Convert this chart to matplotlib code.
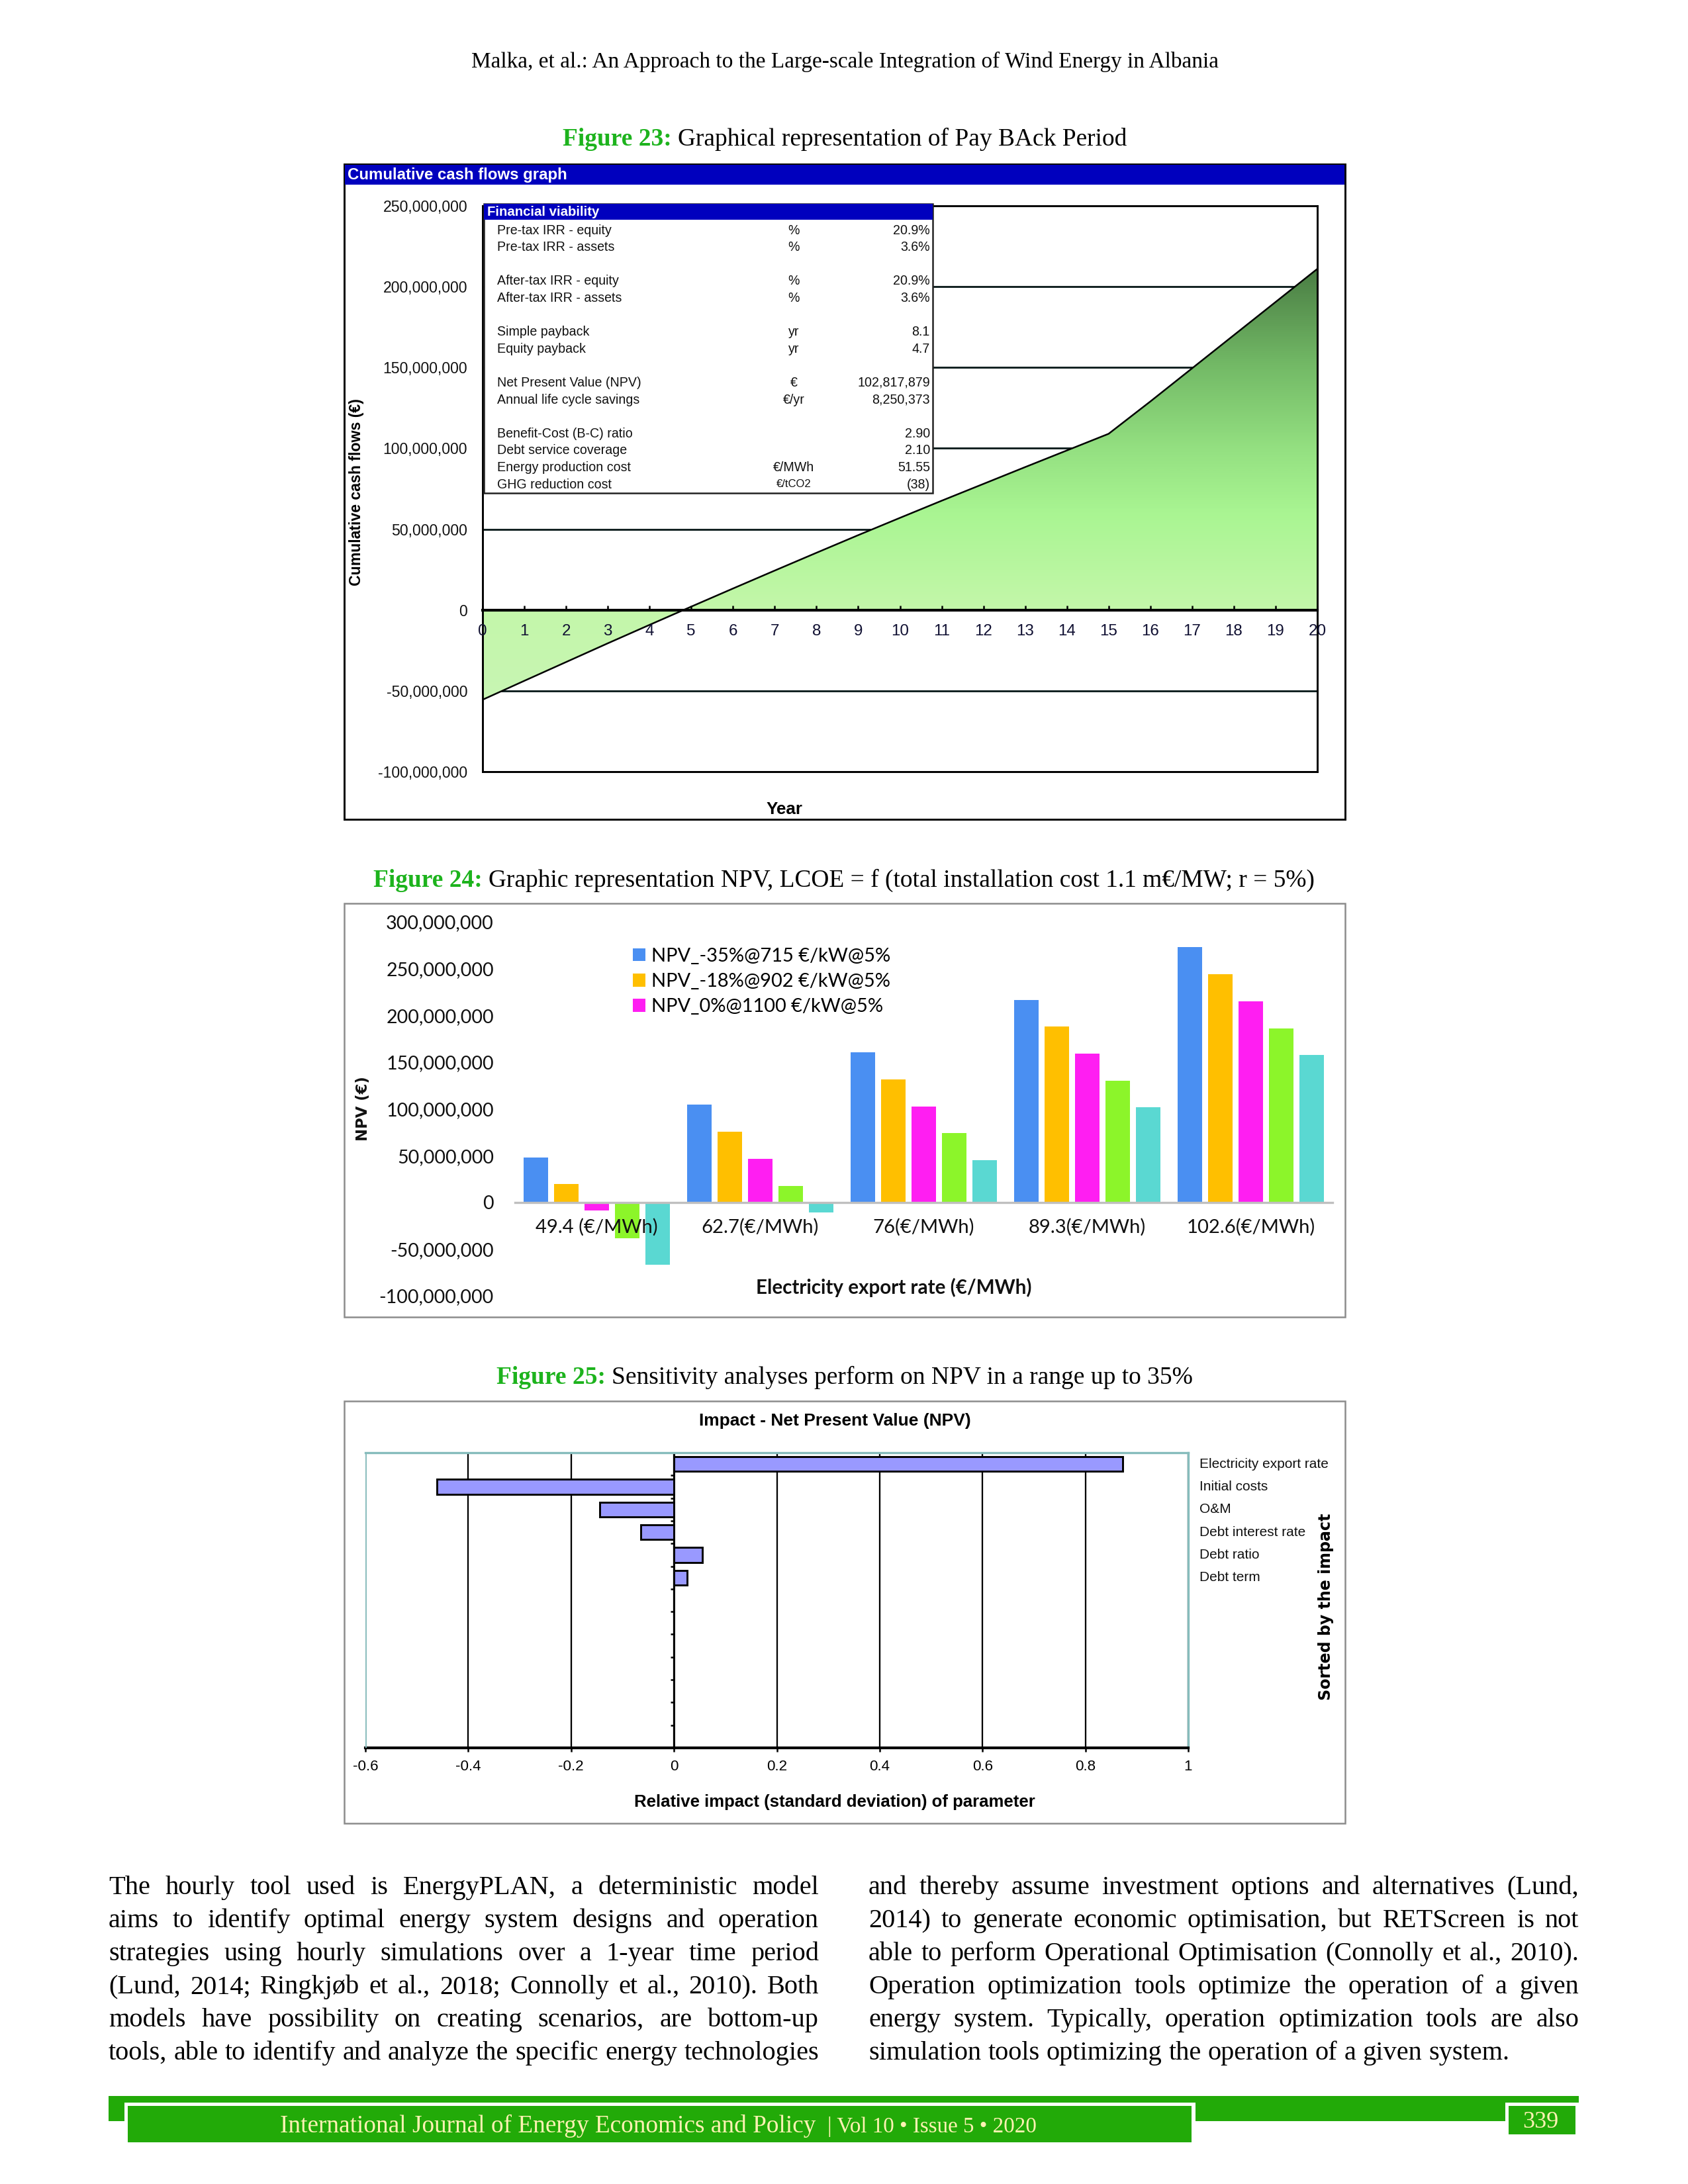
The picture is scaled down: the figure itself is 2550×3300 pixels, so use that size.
import numpy as np
import matplotlib
matplotlib.use('Agg')
import matplotlib.pyplot as plt
from matplotlib import font_manager
from matplotlib.colors import LinearSegmentedColormap, Normalize
from matplotlib.patches import Rectangle, Polygon
from matplotlib.ticker import FuncFormatter

W, H = 2550, 3300

# ---------------- data ----------------
years = list(range(21))
# cumulative cash flows, million EUR
cum_cash = [-55.5, -43.8, -32.2, -20.6, -9.2, 2.1, 13.3, 24.4, 35.4, 46.3, 57.0,
            67.6, 78.0, 88.4, 98.7, 109.0, 129.0, 149.5, 170.0, 190.5, 211.0]
cash_ticks = [-100, -50, 0, 50, 100, 150, 200, 250]

viab_labels = ['Pre-tax IRR - equity', 'Pre-tax IRR - assets', '',
               'After-tax IRR - equity', 'After-tax IRR - assets', '',
               'Simple payback', 'Equity payback', '',
               'Net Present Value (NPV)', 'Annual life cycle savings', '',
               'Benefit-Cost (B-C) ratio', 'Debt service coverage',
               'Energy production cost', 'GHG reduction cost']
viab_units = ['%', '%', '', '%', '%', '', 'yr', 'yr', '', '€', '€/yr', '',
              '', '', '€/MWh', '€/tCO2']
viab_values = ['20.9%', '3.6%', '', '20.9%', '3.6%', '', '8.1', '4.7', '',
               '102,817,879', '8,250,373', '', '2.90', '2.10', '51.55', '(38)']

rates = ['49.4 (€/MWh)', '62.7(€/MWh)', '76(€/MWh)', '89.3(€/MWh)', '102.6(€/MWh)']
npv_names = ['NPV_-35%@715 €/kW@5%', 'NPV_-18%@902 €/kW@5%', 'NPV_0%@1100 €/kW@5%', '', '']
# million EUR
npv_blue = [48.0, 104.3, 160.6, 216.5, 272.8]
npv_orange = [20.0, 75.9, 131.5, 188.0, 244.3]
npv_magenta = [-9.0, 46.8, 102.7, 159.0, 215.2]
npv_green = [-38.5, 17.7, 74.3, 130.2, 186.2]
npv_cyan = [-67.0, -10.7, 45.2, 101.5, 157.4]
npv_ticks = [-100, -50, 0, 50, 100, 150, 200, 250, 300]

params = ['Electricity export rate', 'Initial costs', 'O&M',
          'Debt interest rate', 'Debt ratio', 'Debt term']
impact = [0.872, -0.461, -0.144, -0.064, 0.055, 0.025]
n_slots = 13
impact_ticks = [-0.6, -0.4, -0.2, 0, 0.2, 0.4, 0.6, 0.8, 1]

left_col = ["The hourly tool used is EnergyPLAN, a deterministic model",
            "aims to identify optimal energy system designs and operation",
            "strategies using hourly simulations over a 1-year time period",
            "(Lund, 2014; Ringkjøb et al., 2018; Connolly et al., 2010). Both",
            "models have possibility on creating scenarios, are bottom-up",
            "tools, able to identify and analyze the specific energy technologies"]
right_col = ["and thereby assume investment options and alternatives (Lund,",
             "2014) to generate economic optimisation, but RETScreen is not",
             "able to perform Operational Optimisation (Connolly et al., 2010).",
             "Operation optimization tools optimize the operation of a given",
             "energy system. Typically, operation optimization tools are also",
             "simulation tools optimizing the operation of a given system."]

# ---------------- fonts / helpers ----------------
names = {f.name for f in font_manager.fontManager.ttflist}
SERIF = 'Liberation Serif'
ARIAL = 'Liberation Sans'
if 'Liberation Sans Narrow' in names:
    NARROW, NSCALE = 'Liberation Sans Narrow', 1.0
else:
    NARROW, NSCALE = ARIAL, 1.15   # no narrow face: a bit wider, closer in height
CAL = 'Lato'
VERD = 'DejaVu Sans'
GREEN = '#1db31d'
BAR_GREEN = '#22aa08'
BLUE_BAR = '#0000be'

fig = plt.figure(figsize=(8.5, 11), dpi=300, facecolor='white')
R = fig.canvas.get_renderer()


def fx(x):
    return x / W


def fy(y):
    return 1 - y / H


def width_of(s, size, family, weight='normal'):
    t = fig.text(0, 0, s, fontsize=size, family=family, weight=weight)
    w = t.get_window_extent(R).width
    t.remove()
    return w


def fit(s, width, family, weight='normal', narrow=False):
    k = NSCALE if narrow else 1.0
    return k * 10 * width / width_of(s, 10, family, weight)


def put(x, y, s, size, family, **kw):
    return fig.text(fx(x), fy(y), s, fontsize=size, family=family, **kw)


def rect(x0, y0, x1, y1, **kw):
    r = Rectangle((fx(x0), fy(y1)), (x1 - x0) / W, (y1 - y0) / H,
                  transform=fig.transFigure, **kw)
    fig.add_artist(r)
    return r


def add_ax(x0, y0, x1, y1):
    return fig.add_axes([fx(x0), fy(y1), (x1 - x0) / W, (y1 - y0) / H])


def caption(base, head, rest, width, xc=1276):
    w1 = width_of(head, 10, SERIF, 'bold')
    w2 = width_of(rest, 10, SERIF)
    sp = width_of('x x', 10, SERIF) - width_of('xx', 10, SERIF)
    k = width / (w1 + sp + w2)
    x0 = xc - width / 2
    put(x0, base, head, 10 * k, SERIF, weight='bold', color=GREEN, va='baseline')
    put(x0 + (w1 + sp) * k, base, rest, 10 * k, SERIF, va='baseline')


money = FuncFormatter(lambda v, p: '{:,.0f}'.format(v))

# ---------------- page header ----------------
head = 'Malka, et al.: An Approach to the Large-scale Integration of Wind Energy in Albania'
put(1276, 102, head, fit(head, 1128, SERIF), SERIF, ha='center', va='baseline')

# ---------------- Figure 23 ----------------
caption(220, 'Figure 23:', 'Graphical representation of Pay BAck Period', 852)
rect(520, 248, 2032, 1238, facecolor='none', edgecolor='black', lw=0.7, zorder=-1)
rect(521, 249, 2031, 279, facecolor=BLUE_BAR, edgecolor='none')
put(525, 265, 'Cumulative cash flows graph', fit('Cumulative cash flows graph', 332, ARIAL, 'bold'),
    ARIAL, weight='bold', color='white', va='center')

ax1 = add_ax(729, 311, 1990, 1166)
yv = np.array(cum_cash) * 1e6
stops = [(-60, '#c8f5b4'), (0, '#c4f7aa'), (60, '#a9f592'), (100, '#94e081'),
         (150, '#74bb67'), (215, '#487a42')]
cmap = LinearSegmentedColormap.from_list(
    'cash', [((v + 60) / 275, c) for v, c in stops])
grad = np.linspace(-100, 250, 600).reshape(-1, 1)
im = ax1.imshow(grad, extent=[0, 20, -100e6, 250e6], origin='lower', aspect='auto',
                cmap=cmap, norm=Normalize(-60, 215), zorder=1, interpolation='bilinear')
poly = Polygon(np.column_stack([[0] + years + [20], [0] + list(yv) + [0]]), closed=True,
               transform=ax1.transData, facecolor='none', edgecolor='none')
ax1.add_patch(poly)
im.set_clip_path(poly)
ax1.plot(years, yv, color='black', lw=0.6, zorder=2)
ax1.set_xlim(0, 20)
ax1.set_ylim(-100e6, 250e6)
ax1.set_yticks(np.array(cash_ticks) * 1e6)
ax1.yaxis.set_major_formatter(money)
ax1.set_xticks(years)
ax1.set_axisbelow(True)
ax1.xaxis.set_zorder(3)       # year labels sit on top of the fill
ax1.yaxis.grid(True, color='#102020', lw=0.7)
for sp in ['left', 'right', 'top']:
    ax1.spines[sp].set_linewidth(0.7)
ax1.spines['bottom'].set_position(('data', 0))
ax1.spines['bottom'].set_linewidth(1.0)
ax1.axhline(-100e6, color='black', lw=0.7, clip_on=False, zorder=3)
tsz = fit('250,000,000', 128, ARIAL)
ax1.tick_params(axis='y', length=0, pad=5.5, labelsize=tsz, labelfontfamily=ARIAL,
                labelcolor='#111111')
ax1.tick_params(axis='x', direction='in', length=1.7, width=0.6, pad=5, labelsize=tsz * 1.05,
                labelfontfamily=ARIAL, labelcolor='#111133')
ylab = 'Cumulative cash flows (€)'
put(539, 744, ylab, fit(ylab, 285, ARIAL, 'bold'), ARIAL, weight='bold',
    rotation=90, ha='center', va='center')
put(1185, 1223, 'Year', fit('Year', 55, ARIAL, 'bold'), ARIAL, weight='bold',
    ha='center', va='center')

# financial viability table (drawn on top of the chart)
rect(731, 308, 1409, 745, facecolor='white', edgecolor='#222222', lw=0.6)
rect(731, 308, 1409, 332, facecolor=BLUE_BAR, edgecolor='none')
put(736, 321, 'Financial viability', fit('Financial viability', 170, ARIAL, 'bold'),
    ARIAL, weight='bold', color='white', va='center')
rsz = fit('Pre-tax IRR - equity', 172, ARIAL)
for i, (lab, unit, val) in enumerate(zip(viab_labels, viab_units, viab_values)):
    yy = 348 + i * 25.6
    put(751, yy, lab, rsz, ARIAL, va='center', color='#111111')
    put(1199, yy, unit, rsz * (0.85 if 'tCO2' in unit else 1), ARIAL, va='center',
        ha='center', color='#111111')
    put(1405, yy, val, rsz, ARIAL, va='center', ha='right', color='#111111')

# ---------------- Figure 24 ----------------
caption(1340, 'Figure 24:', 'Graphic representation NPV, LCOE = f (total installation cost 1.1 m€/MW; r = 5%)', 1425)
rect(520, 1365, 2032, 1990, facecolor='none', edgecolor='#8c8c8c', lw=0.6, zorder=-1)

ax2 = add_ax(778, 1393, 2013, 1958)
x = np.arange(len(rates))
series = [npv_blue, npv_orange, npv_magenta, npv_green, npv_cyan]
colors = ['#4a8ff2', '#ffbf00', '#ff1ef2', '#8cf52a', '#5ad8d2']
offs = (np.arange(5) - 2) * 0.186
for k in range(5):
    ax2.bar(x + offs[k], np.array(series[k]) * 1e6, width=0.147, color=colors[k],
            label=npv_names[k] if npv_names[k] else '_nolegend_')
ax2.set_xlim(-0.5, 4.5)
ax2.set_ylim(-100e6, 300e6)
ax2.set_yticks(np.array(npv_ticks) * 1e6)
ax2.yaxis.set_major_formatter(money)
ax2.set_xticks(x)
ax2.set_xticklabels(rates)
ax2.set_axisbelow(False)
for sp in ['left', 'right', 'top']:
    ax2.spines[sp].set_visible(False)
ax2.spines['bottom'].set_position(('data', 0))
ax2.spines['bottom'].set_color('#bfbfbf')
ax2.spines['bottom'].set_linewidth(0.8)
ysz2 = fit('300,000,000', 162, CAL)
ax2.tick_params(axis='y', length=0, pad=7.7, labelsize=ysz2, labelfontfamily=CAL,
                labelcolor='#111111')
xsz2 = fit('49.4 (€/MWh)', 185, CAL)
ax2.tick_params(axis='x', length=0, pad=5.8, labelsize=xsz2, labelfontfamily=CAL,
                labelcolor='#111111')
lsz = fit(npv_names[0], 361, CAL)
ax2.legend(loc='upper left', bbox_to_anchor=(fx(956), fy(1432)), bbox_transform=fig.transFigure,
           frameon=False, prop={'family': CAL, 'size': lsz}, handlelength=0.65,
           handleheight=0.65, handletextpad=0.3, labelspacing=0.42, borderpad=0,
           borderaxespad=0)
xl2 = 'Electricity export rate (€/MWh)'
put(1350, 1945, xl2, fit(xl2, 418, CAL, 'bold'), CAL, weight='bold', ha='center',
    va='center', color='#111111')
put(548, 1675, 'NPV (€)', fit('NPV (€)', 98, VERD, 'bold'), VERD, weight='bold',
    rotation=90, ha='center', va='center', color='#111111')

# ---------------- Figure 25 ----------------
caption(2091, 'Figure 25:', 'Sensitivity analyses perform on NPV in a range up to 35%', 1053)
rect(520, 2117, 2032, 2755, facecolor='none', edgecolor='#8c8c8c', lw=0.6, zorder=-1)
tt = 'Impact - Net Present Value (NPV)'
put(1261, 2147, tt, fit(tt, 358, NARROW, 'bold', narrow=True), NARROW, weight='bold',
    ha='center', va='center')

ax3 = add_ax(552, 2195, 1795, 2641)
slots = np.arange(len(params)) + 0.5
ax3.barh(slots, impact, height=0.65, color='#9999ff', edgecolor='black', lw=0.7, zorder=2)
ax3.set_xlim(-0.6, 1)
ax3.set_ylim(n_slots, 0)
ax3.set_xticks(impact_ticks)
ax3.xaxis.set_major_formatter(FuncFormatter(lambda v, p: '{:g}'.format(round(v, 1) + 0.0)))
ax3.set_yticks(np.arange(n_slots + 1))
ax3.set_yticklabels([])
ax3.set_axisbelow(True)
ax3.xaxis.grid(True, color='black', lw=0.55)
TEAL = '#86bcbc'
ax3.spines['left'].set_position(('data', 0))
ax3.spines['left'].set_linewidth(0.7)
ax3.spines['top'].set_color(TEAL)
ax3.spines['right'].set_color(TEAL)
ax3.spines['top'].set_linewidth(0.8)
ax3.spines['right'].set_linewidth(0.8)
ax3.spines['bottom'].set_linewidth(1.0)
ax3.axvline(-0.6, color=TEAL, lw=0.9, zorder=3)
ax3.tick_params(axis='y', direction='out', length=1.2, width=0.6)
isz = fit('0.2', 27, NARROW, narrow=True)
ax3.tick_params(axis='x', direction='out', length=1.5, width=0.6, pad=2.8, labelsize=isz,
                labelfontfamily=NARROW)
psz = fit(params[0], 169, NARROW, narrow=True)
for s, name in zip(slots, params):
    ax3.annotate(name, xy=(1, s), xycoords=('axes fraction', 'data'), xytext=(4, 0),
                 textcoords='offset points', va='center', ha='left', fontsize=psz,
                 family=NARROW, color='#111111')
xl3 = 'Relative impact (standard deviation) of parameter'
put(1261, 2723, xl3, fit(xl3, 528, NARROW, 'bold', narrow=True), NARROW, weight='bold',
    ha='center', va='center')
st = 'Sorted by the impact'
put(2003, 2428, st, fit(st, 283, VERD, 'bold'), VERD, weight='bold', rotation=90,
    ha='center', va='center')

# ---------------- body text (justified, two columns) ----------------
cols = [(164, 1237, left_col), (1312, 2385, right_col)]
bsz = 10 * min((x1 - x0) / width_of(l, 10, SERIF)
               for x0, x1, lines in cols for l in lines[:-1] + ([lines[-1]] if lines is left_col else []))
space = width_of('x x', bsz, SERIF) - width_of('xx', bsz, SERIF)
for x0, x1, lines in cols:
    for i, line in enumerate(lines):
        base = 2862 + i * 50
        words = line.split()
        ws = [width_of(w, bsz, SERIF) for w in words]
        last = (lines is right_col and i == len(lines) - 1)
        gap = space if last else (x1 - x0 - sum(ws)) / (len(words) - 1)
        xx = x0
        for w, wd in zip(words, ws):
            put(xx, base, w, bsz, SERIF, va='baseline')
            xx += wd + gap

# ---------------- footer ----------------
rect(164, 3167, 2385, 3205, facecolor=BAR_GREEN, edgecolor='none')
rect(188, 3177, 1806, 3243, facecolor='white', edgecolor='none')
rect(193, 3182, 1800, 3237, facecolor=BAR_GREEN, edgecolor='none')
rect(2274, 3177, 2385, 3231, facecolor='white', edgecolor='none')
rect(2279, 3182, 2380, 3225, facecolor=BAR_GREEN, edgecolor='none')
j1 = 'International Journal of Energy Economics and Policy'
j2 = '| Vol 10 • Issue 5 • 2020'
put(423, 3222, j1, fit(j1, 810, SERIF), SERIF, color='#fff2b3', va='baseline')
put(1250, 3222, j2, fit(j2, 315, SERIF), SERIF, color='#fff2b3', va='baseline')
put(2327, 3215, '339', fit('339', 54, SERIF), SERIF, color='#fff2b3', ha='center',
    va='baseline')

fig.savefig('out.png', dpi=300, facecolor='white')
